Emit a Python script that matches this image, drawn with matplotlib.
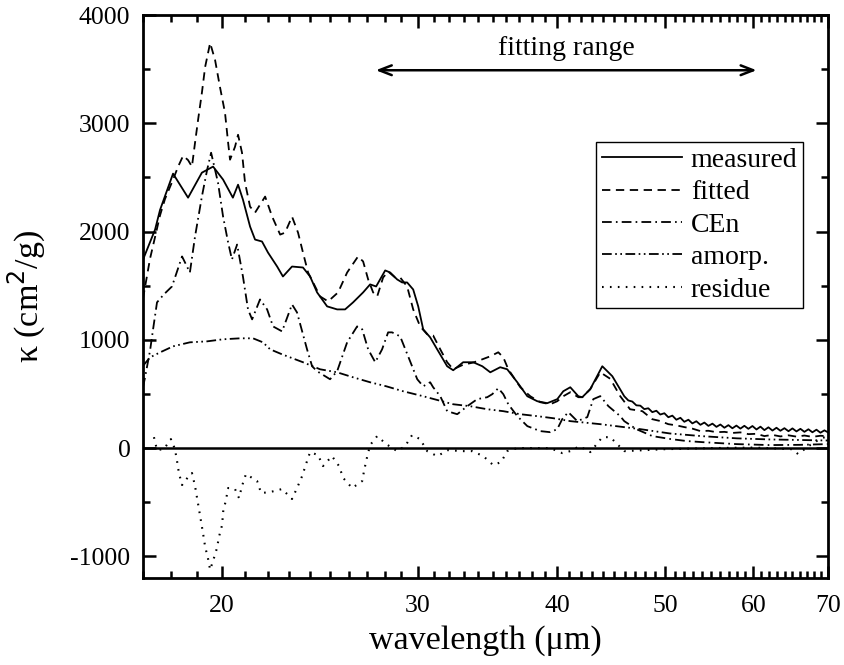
import numpy as np
import matplotlib
matplotlib.use("Agg")
import matplotlib.pyplot as plt
from matplotlib.ticker import FixedLocator, NullFormatter, MultipleLocator

plt.rcParams['font.family'] = ['Liberation Serif', 'DejaVu Serif']
plt.rcParams['axes.unicode_minus'] = False
plt.rcParams['lines.scale_dashes'] = False

# wavelength (um), kappa (cm^2/g)
meas_wl = [17.00, 17.43, 17.61, 18.09, 18.66, 19.20, 19.65, 20.06, 20.47, 20.69, 20.90,
           21.21, 21.43, 21.74, 22.01, 22.43, 22.70, 23.13, 23.66, 24.01, 24.36, 24.87,
           25.39, 25.81, 26.24, 26.79, 27.18, 27.52, 28.04, 28.33, 28.74, 29.04, 29.34,
           29.71, 30.02, 30.33, 30.77, 31.22, 31.87, 32.27, 32.94, 33.63, 34.27, 34.84,
           35.56, 36.08, 36.84, 37.61, 38.39, 39.19, 40.01, 40.51, 41.10, 41.79, 42.13,
           42.83, 43.91, 44.83, 45.95, 46.34, 46.72, 47.11, 47.50, 47.89, 48.29, 48.69,
           49.10, 49.50, 49.92, 50.33, 50.75, 51.17, 51.60, 52.02, 52.46, 52.89, 53.33,
           53.78, 54.22, 54.67, 55.13, 55.59, 56.04, 56.51, 56.98, 57.45, 57.93, 58.41,
           58.89, 59.38, 59.88, 60.38, 60.88, 61.38, 61.89, 62.41, 62.93, 63.44, 63.97,
           64.51, 65.04, 65.58, 66.12, 66.67, 67.22, 67.78, 68.35, 68.91, 69.48, 70.00]
meas_k = [1740, 2018, 2200, 2535, 2313, 2544, 2600, 2480, 2313, 2433, 2295,
          2046, 1926, 1908, 1806, 1677, 1585, 1677, 1668, 1585, 1438, 1309,
          1281, 1281, 1346, 1438, 1512, 1493, 1641, 1622, 1558, 1530, 1530,
          1465, 1309, 1097, 1023, 912, 756, 719, 793, 793, 756, 700,
          747, 728, 608, 479, 433, 415, 452, 525, 562, 479, 470,
          544, 756, 664, 479, 440, 430, 395, 392, 360, 368, 332,
          345, 310, 322, 285, 300, 262, 280, 243, 262, 228, 248,
          215, 236, 205, 226, 196, 218, 188, 212, 183, 208, 180,
          206, 178, 204, 172, 198, 166, 192, 162, 188, 160, 184,
          156, 182, 154, 178, 150, 174, 146, 170, 142, 164, 145]

fit_wl = [17.00, 17.25, 17.43, 17.61, 17.79, 18.09, 18.28, 18.47, 18.66, 18.81, 18.93,
          19.05, 19.20, 19.33, 19.53, 19.73, 19.93, 20.14, 20.27, 20.35, 20.56, 20.69,
          20.86, 20.99, 21.21, 21.43, 21.88, 22.20, 22.57, 22.80, 23.13, 23.42, 23.66,
          23.91, 24.26, 24.51, 24.92, 25.44, 25.92, 26.51, 26.79, 27.07, 27.35, 27.58,
          27.92, 28.21, 28.62, 28.92, 29.34, 29.71, 30.14, 30.58, 30.96, 31.42, 31.87,
          32.27, 32.94, 33.63, 34.27, 34.84, 35.42, 35.79, 36.16, 37.07, 37.84, 38.62,
          39.43, 40.01, 40.51, 41.10, 41.79, 42.13, 42.83, 43.73, 44.64, 45.57, 46.50,
          47.70, 48.69, 49.50, 50.33, 51.17, 52.02, 52.89, 53.78, 54.67, 55.59, 56.51,
          57.45, 58.41, 59.38, 60.38, 61.38, 62.41, 63.44, 64.51, 65.58, 66.67, 67.78,
          68.91, 70.00]
fit_k = [1380, 1750, 1950, 2150, 2300, 2480, 2600, 2700, 2660, 2600, 2820,
         3032, 3281, 3521, 3742, 3585, 3336, 3097, 2820, 2664, 2783, 2894,
         2728, 2452, 2230, 2175, 2323, 2138, 1972, 1990, 2138, 1990, 1806,
         1622, 1493, 1401, 1355, 1438, 1622, 1770, 1724, 1558, 1438, 1401,
         1576, 1631, 1576, 1576, 1493, 1281, 1124, 1051, 1040, 912, 793,
         728, 770, 790, 820, 848, 885, 838, 728, 562, 479, 424,
         405, 433, 479, 516, 470, 470, 544, 700, 640, 479, 359,
         341, 267, 250, 221, 210, 194, 180, 157, 160, 147, 150,
         140, 145, 129, 132, 111, 122, 108, 118, 106, 116, 104,
         114, 110]

cen_wl = [17.00, 17.07, 17.25, 17.36, 17.50, 17.75, 18.05, 18.43, 18.73, 18.93, 19.20,
          19.41, 19.57, 19.85, 20.06, 20.27, 20.43, 20.65, 20.90, 21.12, 21.30, 21.65,
          21.97, 22.24, 22.66, 23.13, 23.37, 23.86, 24.11, 24.36, 25.02, 25.39, 25.92,
          26.46, 26.74, 27.07, 27.47, 27.86, 28.21, 28.44, 28.92, 29.40, 29.96, 30.33,
          30.77, 30.96, 31.42, 31.87, 32.54, 33.22, 33.91, 34.62, 34.98, 35.42, 35.79,
          36.16, 36.84, 37.61, 38.62, 39.43, 40.01, 40.42, 40.93, 41.70, 42.57, 43.10,
          43.73, 44.47, 45.57, 45.95, 47.11, 48.69, 50.60, 52.30, 54.00, 57.90, 62.00,
          66.00, 70.00]
cen_k = [560, 650, 900, 1100, 1346, 1420, 1493, 1770, 1622, 1954, 2323,
         2571, 2728, 2452, 2138, 1899, 1742, 1880, 1585, 1281, 1189, 1373,
         1281, 1124, 1078, 1327, 1253, 912, 756, 710, 636, 710, 977,
         1124, 1097, 912, 793, 912, 1069, 1069, 1032, 848, 636, 571,
         608, 562, 479, 341, 313, 387, 452, 470, 498, 553, 498,
         405, 295, 203, 157, 147, 175, 267, 332, 249, 286, 452,
         480, 387, 295, 249, 175, 111, 83, 65, 55, 37, 28,
         30, 37]

amo_wl = [17.00, 17.25, 17.61, 18.09, 18.73, 19.41, 20.06, 20.78, 21.34, 21.78, 22.11,
          22.66, 23.66, 24.51, 25.39, 26.24, 27.18, 28.10, 29.10, 30.33, 32.27, 33.42,
          34.62, 35.79, 37.07, 38.39, 39.68, 41.10, 43.73, 47.50, 50.50, 54.00, 58.00,
          62.00, 66.00, 70.00]
amo_k = [760, 838, 884, 940, 977, 986, 1005, 1014, 1014, 977, 912,
         866, 793, 728, 700, 654, 608, 571, 525, 479, 405, 387,
         359, 341, 313, 295, 276, 249, 221, 175, 135, 110, 90,
         80, 75, 70]

res_wl = [17.39, 17.50, 17.75, 18.01, 18.16, 18.24, 18.31, 18.43, 18.66, 18.81, 18.93,
          19.01, 19.09, 19.17, 19.25, 19.33, 19.44, 19.53, 19.65, 19.81, 19.89, 20.02,
          20.06, 20.18, 20.27, 20.56, 20.73, 20.86, 21.03, 21.52, 21.70, 22.11, 22.66,
          23.13, 23.37, 23.62, 23.81, 24.01, 24.41, 24.66, 25.12, 25.49, 25.71, 26.19,
          26.74, 26.85, 27.01, 27.18, 27.58, 28.10, 28.74, 29.22, 29.64, 30.14, 30.58,
          31.22, 31.94, 32.81, 33.56, 34.34, 35.05, 35.63, 36.08, 36.84, 37.84, 39.43,
          40.42, 41.10, 41.88, 42.83, 43.91, 44.64, 45.95, 50.00, 55.00, 60.00, 65.00,
          65.80, 67.50, 69.00, 70.00]
res_k = [101, -18, -9, 83, -9, -120, -230, -341, -267, -230, -350,
         -461, -571, -682, -793, -912, -1014, -1124, -1041, -922, -820, -710,
         -590, -479, -369, -378, -461, -350, -240, -304, -415, -406, -378,
         -470, -369, -258, -147, -37, -65, -166, -74, -166, -276, -369,
         -304, -203, -83, 28, 111, 37, -28, 18, 120, 83, -28,
         -74, -18, -28, -28, -74, -157, -129, -28, 0, 0, 0,
         -46, -28, 18, -37, 101, 101, -28, -10, 0, 5, -10,
         -55, 30, 90, 110]

x_major = [20, 30, 40, 50, 60, 70]
x_minor = [17, 18, 19, 21, 22, 23, 24, 25, 26, 27, 28, 29, 31, 32, 33, 34, 35, 36, 37, 38, 39,
           41, 42, 43, 44, 45, 46, 47, 48, 49, 51, 52, 53, 54, 55, 56, 57, 58, 59,
           61, 62, 63, 64, 65, 66, 67, 68, 69]
fit_range = (27.5, 60.4)

fig = plt.figure(figsize=(8.45, 6.65), dpi=100)
ax = fig.add_axes([0.1692, 0.1308, 0.8107, 0.8466])

ax.axhline(0, color='black', lw=1.8, zorder=1)
ax.plot(meas_wl, meas_k, color='black', lw=1.3, ls='-', label='measured')
ax.plot(fit_wl, fit_k, color='black', lw=1.3, ls=(0, (6, 4)), label='fitted')
ax.plot(cen_wl, cen_k, color='black', lw=1.3, ls=(0, (7, 3, 1.2, 3)), label='CEn')
ax.plot(amo_wl, amo_k, color='black', lw=1.3, ls=(0, (7, 2.5, 1.2, 2.5, 1.2, 2.5)), label='amorp.')
ax.plot(res_wl, res_k, color='black', lw=1.5, ls=(0, (1.2, 4.5)), label='residue')

ax.set_xscale('log')
ax.set_xlim(17, 70)
ax.set_ylim(-1200, 4000)
ax.xaxis.set_major_locator(FixedLocator(x_major))
ax.xaxis.set_minor_locator(FixedLocator(x_minor))
ax.xaxis.set_minor_formatter(NullFormatter())
ax.set_xticklabels([str(v) for v in x_major])
ax.yaxis.set_major_locator(MultipleLocator(1000))
ax.yaxis.set_minor_locator(MultipleLocator(500))

ax.tick_params(which='both', direction='in', top=True, right=True, width=1.8, labelsize=18.5)
ax.tick_params(axis='x', pad=12)
ax.tick_params(axis='y', pad=9)
ax.tick_params(which='major', length=9)
ax.tick_params(which='minor', length=5)
for s in ax.spines.values():
    s.set_linewidth(2.0)

ax.set_xlabel('wavelength (μm)', fontsize=24.5, labelpad=6)
ax.set_ylabel('κ (cm$^2$/g)', fontsize=24.5, labelpad=16)

ax.annotate('', xy=(fit_range[1], 3490), xytext=(fit_range[0], 3490),
            arrowprops=dict(arrowstyle='<->,head_length=0.9,head_width=0.35', lw=1.8, color='black',
                            shrinkA=0, shrinkB=0))
ax.text(np.sqrt(fit_range[0] * fit_range[1]), 3580, 'fitting range', ha='center', va='bottom', fontsize=20)

leg = ax.legend(loc='upper right', bbox_to_anchor=(0.9635, 0.7744), fontsize=20, frameon=True,
                fancybox=False, edgecolor='black', framealpha=1, handlelength=2.9,
                handletextpad=0.3, labelspacing=0.25, borderpad=0.2, borderaxespad=0)
leg.get_frame().set_linewidth(1.0)

fig.savefig('out.png', dpi=100)
